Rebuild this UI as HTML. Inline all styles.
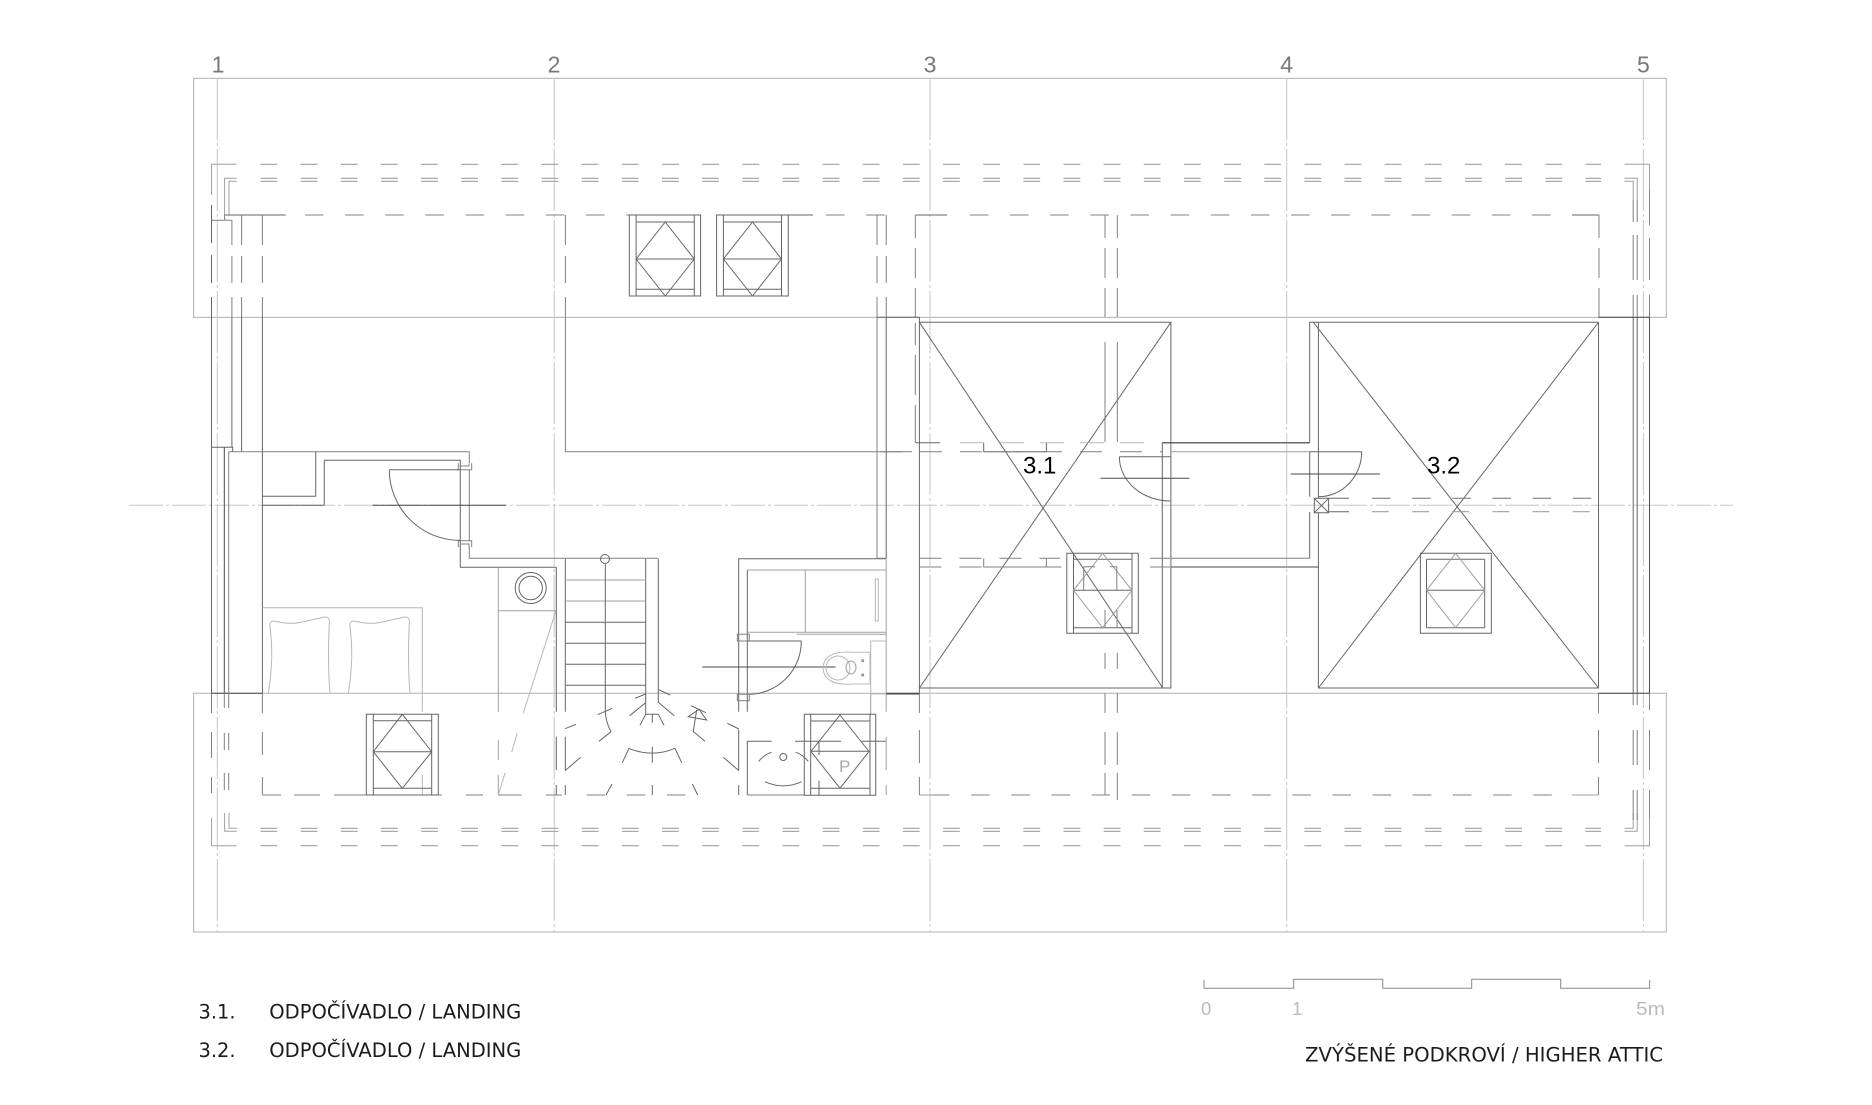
<!DOCTYPE html>
<html><head><meta charset="utf-8"><style>
html,body{margin:0;padding:0;background:#fff}
svg{display:block}
.a{stroke:#c8c8c8;stroke-dasharray:34 3 3 3}
.av{stroke:#c8c8c8;stroke-dasharray:62 3 3 3}
.r{stroke:#bdbdbd;stroke-width:1.2}
.k{stroke:#4a4a4a}.d{stroke:#666}.m{stroke:#808080}.l{stroke:#a0a0a0}.x{stroke:#b8b8b8}
path,line,rect,circle,ellipse,polyline{fill:none;stroke-width:1}
.hd{stroke:#a0a0a0;stroke-dasharray:16.8 23.35;stroke-width:1.2}
.hm{stroke:#808080;stroke-dasharray:18.5 21.65;stroke-width:1.1}
text{stroke:none}
.ax{font:23px "Liberation Sans",sans-serif;fill:#777;text-anchor:middle}
.rm{font:24px "Liberation Sans",sans-serif;fill:#000}
.sc{font:18.5px "Liberation Sans",sans-serif;fill:#bbb}
.lg{font:19.4px "DejaVu Sans",sans-serif;fill:#1c1c1c}
</style></head><body>
<svg width="1872" height="1105" viewBox="0 0 1872 1105" xmlns="http://www.w3.org/2000/svg">
<rect width="1872" height="1105" fill="#fff" style="fill:#fff;stroke:none"/>
<!-- roof outlines -->
<rect class="r" x="193.6" y="78.4" width="1472.7" height="239"/>
<rect class="r" x="193.6" y="693.3" width="1472.7" height="238.7"/>
<!-- axes -->
<g>
<line class="av" x1="217.3" y1="78" x2="217.3" y2="932"/>
<line class="av" x1="554.2" y1="78" x2="554.2" y2="932"/>
<line class="av" x1="930" y1="78" x2="930" y2="932"/>
<line class="av" x1="1286.7" y1="78" x2="1286.7" y2="932"/>
<line class="av" x1="1643.4" y1="78" x2="1643.4" y2="932"/>
<line class="a" x1="129" y1="505.3" x2="1733" y2="505.3"/>
</g>
<text class="ax" x="218" y="72.7">1</text><text class="ax" x="554" y="72.7">2</text><text class="ax" x="930" y="72.7">3</text><text class="ax" x="1286.7" y="72.7">4</text><text class="ax" x="1643.4" y="72.7">5</text>
<!-- top eaves -->
<line class="hd" x1="260.5" y1="164.3" x2="1601" y2="164.3"/>
<line class="hd" x1="260.5" y1="178.3" x2="1601" y2="178.3"/>
<line class="hd" x1="260.5" y1="181.3" x2="1601" y2="181.3"/>
<path class="l" d="M236.7 164.3H211.5V195M236.7 178.3H224.6V215M236.7 181.3H229V215"/>
<path class="l" d="M1624.5 164.3H1649.5V190M1624.5 178.3H1637.2V200M1624.5 181.3H1633.2V200"/>
<!-- bottom eaves -->
<line class="hd" x1="260.5" y1="845.7" x2="1601" y2="845.7"/>
<line class="hd" x1="260.5" y1="828.3" x2="1601" y2="828.3"/>
<line class="hd" x1="260.5" y1="831.3" x2="1601" y2="831.3"/>
<path class="l" d="M236.7 845.7H211.5V818M236.7 831.3H224.6V813M236.7 828.3H229V813"/>
<path class="l" d="M1624.5 845.7H1649.5V818M1624.5 831.3H1637.2V813M1624.5 828.3H1633.2V813"/>
<!-- top inner wall dashed -->
<path class="d" d="M224.6 215H285.7M629 215H700.6M716.6 215H813"/>
<line class="hm" x1="305" y1="215" x2="629" y2="215"/>
<line class="hm" x1="826" y1="215" x2="887" y2="215"/>
<path class="d" d="M915.3 215H947"/>
<line class="hm" x1="969.9" y1="215" x2="1571" y2="215"/>
<path class="d" d="M1571.9 215H1599"/>
<!-- top verticals -->
<path class="d" d="M211.5 205V243M211.5 255V283M211.5 297V317"/>
<path class="m" d="M231.9 220V245M231.9 256V283M231.9 297V317M241.6 215V245M241.6 256V283M241.6 297V317M262.4 215V245M262.4 256V283M262.4 297V317M565.4 215V245M565.4 256V283M565.4 297V317M877 215V245M877 256V283M877 297V317M886.2 215V245M886.2 256V283M886.2 297V317"/>
<path class="m" d="M915.3 215V238M915.3 248V278M915.3 288V317M915.3 323V345M915.3 355V395M915.3 405V442.7M1105 215V238M1105 248V278M1105 288V317M1105 342V442M1117.3 215V238M1117.3 248V278M1117.3 288V317M1117.3 342V442M1599 215V238M1599 248V278M1599 288V317"/>
<path class="m" d="M1633.2 200V222M1633.2 235V280M1633.2 295V317M1637.2 200V222M1637.2 235V280M1637.2 295V317M1649.5 190V225M1649.5 238V280M1649.5 295V317"/>
<path class="m" d="M224.6 215V220.3M211.5 220.3H231.9"/>
<!-- left wall -->
<path class="d" d="M211.5 317V693.3M231.9 317V447.3M241.6 317V451.7M262.4 317V693.3M211.5 447.3H232.7V451.7"/>
<path class="k" d="M224.3 447.3V693.3M211.5 693.3H262.4"/>
<path class="m" d="M228.7 451.7V693.3"/>
<!-- room wall pieces -->
<path class="m" d="M228.7 451.7H469.3V463M469.3 469.7V540.7M469.3 546.7V558.3H658.4"/>
<path class="d" d="M315.7 451.7V496.3H262.3M324.3 505.3V460.3H460.3V567.3H556.3M262.3 505.3H324.3"/>
<path class="m" d="M458.3 463.3V469.7H471.7V463.3M460.5 463.3V466H469V463.3M458.3 547.3V540.7H471.7V547.3M460.5 547.3V544H469V547.3"/>
<path class="d" d="M389.3 469.7H460M389.3 469.7A70.7 70.7 0 0 0 460 540.4"/>
<line class="k" x1="372.7" y1="505.3" x2="506" y2="505.3"/>
<!-- bed -->
<path class="x" d="M262.3 607.7H422.3V711.7M422.3 775V795"/>
<path class="x" d="M268.3 693.3C272 670 273 650 270 627Q269 621 274 621C295 626 300 622 325 617Q330 617 329.3 623C328 650 328 670 330 693.3"/>
<path class="x" d="M348.3 693.3C352 670 353 650 350 627Q349 621 354 621C375 626 380 622 405 617Q410 617 409.3 623C408 650 408 670 410 693.3"/>
<!-- left lower verticals -->
<path class="m" d="M211.5 693.3V713M211.5 732V758M211.5 777V793M224.3 693.3V708M224.3 733V750M224.3 773V790M228.7 693.3V708M228.7 733V750M228.7 773V790M262.4 693.3V713M262.4 732V755M262.4 777V795"/>
<path class="m" d="M262.4 795H281M294 795H320M334 795H366M366 795H442M466 795H483M498.3 795H521.7M546 795H562"/>
<line class="hm" x1="586.7" y1="795" x2="700" y2="795"/>
<!-- washer area -->
<path class="l" d="M498.3 567.3V712M498.3 740V760M498.3 775V795M498.3 610.7H556.3"/>
<circle class="d" cx="530.7" cy="588" r="15.5"/><circle class="d" cx="530.7" cy="588" r="11.7"/>
<path class="x" d="M556 610.7L523.3 713M517.3 733L511.7 752M505 773L498.3 795"/>
<path class="d" d="M556.3 567.3V711.7M556.3 736.7V770M556.3 785V795"/>
<!-- stairs -->
<path class="d" d="M565.3 558.7V711.7M565.3 736.7V770M565.3 785V795M645.7 558.7V714.3M658.3 558.7V702.7"/>
<path class="l" d="M565.3 580H645.7M565.3 601H645.7"/>
<path class="d" d="M565.3 622.3H645.7M565.3 643.3H645.7M565.3 664.3H645.7M565.3 685.3H645.7"/>
<path class="d" d="M605.3 562.7V710Q605.5 722 611 731.7"/>
<circle class="d" cx="605" cy="559" r="4.5"/>
<path class="d" d="M597.7 714.7L612.3 708.3M565 728.7L576 724.3M599 741.3L611 731.7M565 770.7L580.7 757.3M606 795L612 784M622.3 762.7L629 748.3M628.7 748.3Q652 758 675 748.3M652.3 746.7V762.7M652.3 785V795M681.7 762.7L675 748.3M697.7 795L692.3 784M739 770.7L723.3 757.3M692.7 731L705 741.3M727.3 723.3L739 729M691 705.7L706 712.7M696.7 710L693.3 731M635 698.3L645.7 694M629.7 715.7L645.7 702.7M658.7 689.7L670 695M658.3 702.3L674.3 715.7M640 725.3L645.7 714.3M652.3 714.3V722.7M664 725.3L658.3 714.3M645.7 714.3H658.3M688.3 716.7L699 709.3L706.7 720Z"/>
<!-- bathroom -->
<path class="d" d="M738.7 711.7V558.7H886M738.7 730V770M738.7 785V795"/>
<path class="d" d="M747.3 711.7V570M747.3 741V795"/>
<path class="l" d="M747.3 570H886M805.3 570V632.3M747.3 632.3H886M796.7 634.3H886"/>
<rect class="x" x="875.3" y="579" width="3" height="42"/>
<path class="m" d="M737.3 634.3H749.3V641H737.3ZM737.3 694.3H749.3V700.7H737.3Z"/>
<path class="d" d="M747.3 641H801.3M801.3 641A53 53 0 0 1 749.3 694.3"/>
<line class="k" x1="702.3" y1="667" x2="835.7" y2="667"/>
<path class="x" d="M870 652.3H853Q824 650 823 668Q824 686 853 684H870ZM870.7 641V694H886M870.7 641H886"/>
<ellipse class="x" cx="838" cy="668" rx="12" ry="12"/>
<ellipse class="l" cx="851" cy="667.5" rx="5" ry="6.5"/>
<circle class="m" cx="862.7" cy="660.7" r="1"/><circle class="m" cx="862.7" cy="675" r="1"/>
<path class="k" d="M886 694H919.4"/>
<path class="l" d="M870.7 694V714"/>
<path class="d" d="M747.7 741.3H771.7M795 741.3H841M861.7 741.3H886"/>
<circle class="d" cx="783.3" cy="757" r="3.5"/>
<path class="d" d="M758.7 761.3Q765 754 771.7 752.3M808.3 761.3Q802 754 795.7 752.3M765 781.7Q783 790 801.7 781.7M819 741.7V755M819 780.7V795"/>
<path class="m" d="M747.3 795H804"/>
<!-- walls 3 -->
<path class="m" d="M877 317V558.3H886.2"/>
<path class="d" d="M886.2 317V558.3M877 317.3H919.4"/>
<path class="l" d="M886.2 558.3V711.7M886.2 737V770M886.2 785V795"/>
<path class="d" d="M919.4 317V693.3"/>
<path class="m" d="M565.4 317V451.7H912"/>
<line class="k" x1="886" y1="693.3" x2="919.4" y2="693.3"/>
<!-- room 3.1 -->
<path class="d" d="M919.4 322.3H1170.9V688H919.4"/>
<path class="d" d="M1162.3 442.7V688"/>
<path class="d" d="M919.4 322.3L1162.8 688M1170.9 322.3L919.4 688"/>
<!-- room 3.2 -->
<path class="d" d="M1598.5 322.3H1309.7V442.7M1318.4 322.3V498.3M1318.4 512.7V688H1598.5V322.3M1309.7 451.7V496.7M1309.7 512V558.3"/>
<path class="d" d="M1313.3 322.3L1598.5 688M1598.5 322.3L1318.4 688"/>
<!-- connector -->
<path class="d" stroke-width="1.5" style="stroke-width:1.5" d="M1162.3 442.7H1309.7"/>
<path class="l" d="M1170.9 451.7H1309.7"/>
<path class="m" d="M1170.9 558.3H1309.7"/>
<path class="k" d="M1170.9 567H1318.4"/>
<!-- dashed in 3.1 -->
<path class="d" d="M915.3 442.7H940M983.7 442.7V451.7H1046.4V442.7"/>
<path stroke-dasharray="24 16" class="x" d="M960 442.7H1145"/>
<path stroke-dasharray="22 18" class="m" d="M880 451.7H1162"/>
<path class="m" d="M983.7 558.3V567H1046.4V558.3"/>
<path stroke-dasharray="22 18" class="m" d="M919.4 558.3H1060M919.4 567H1066M1150 558.3H1170M1150 567H1170"/>
<!-- doors -->
<path class="d" d="M1119.4 456.7H1170.9M1119.4 456.7A51 44 0 0 0 1170.4 501M1361.7 451.7H1309.7M1361.7 451.7A43 45 0 0 1 1318.4 496.7"/>
<line class="k" x1="1100.5" y1="478.3" x2="1189.3" y2="478.3"/>
<line class="k" x1="1290.8" y1="474" x2="1380" y2="474"/>
<!-- flue -->
<path class="d" d="M1314.3 498.3H1328.6V512.7H1314.3ZM1314.3 498.3L1328.6 512.7M1328.6 498.3L1314.3 512.7"/>
<path class="d" d="M1328.6 498.3H1349M1328.6 511.7H1349"/>
<line class="hm" x1="1372" y1="498.3" x2="1598.5" y2="498.3"/>
<line class="hd" x1="1372" y1="511.7" x2="1598.5" y2="511.7"/>
<!-- lower right verticals -->
<path class="m" d="M919.4 693.3V713M919.4 730V763M919.4 777V795M1105 653V669M1105 693.3V713M1105 732V765M1105 773V795M1117.3 653V669M1117.3 693.3V713M1117.3 732V765M1117.3 773V800M1598.5 693.3V713M1598.5 730V763M1598.5 777V795"/>
<path class="m" d="M1633.2 693.3V705M1633.2 730V765M1633.2 790V820M1637.2 693.3V705M1637.2 730V765M1637.2 790V820M1649.5 693.3V710M1649.5 730V770M1649.5 790V818"/>
<line class="hm" x1="931" y1="795" x2="1572" y2="795"/>
<path class="l" d="M919.4 795H931M1572 795H1598.5"/>
<!-- right wall -->
<path class="d" d="M1633.2 317V693.3M1637.2 317V693.3"/>
<path class="k" d="M1649.5 317V693.3M1598.5 317.3H1649.5M1598.5 693.3H1649.5"/>
<!-- windows -->
<g>
<path class="d" d="M629.3 215H700.6V296H629.3ZM636.1 215V296M694.3 215V296M636.1 222H694.3M636.1 289.3H694.3M636.1 259H694.3M665.2 222L694.3 259L665.2 296L636.1 259Z"/>
<path class="d" d="M716.6 215H788.3V296H716.6ZM723.4 215V296M781.5 215V296M723.4 222H781.5M723.4 289.3H781.5M723.4 259H781.5M752.5 222L781.5 259L752.5 296L723.4 259Z"/>
<path class="d" d="M366.3 714.3H438.3V795H366.3ZM373.3 714.3V795M431.7 714.3V795M373.3 720.7H431.7M373.3 788.3H431.7M373.3 751.7H431.7M402.3 714.3L431.7 751.7L402.3 788.3L373.3 751.7Z"/>
<path class="d" d="M804.3 714.3H875.7V795.3H804.3ZM810.7 714.3V795M870 714.3V795M810.7 721H870M810.7 788.3H870M810.7 751.3H870M840 715L869 751.5L840 788.3L811 751.5Z"/>
</g>
<text x="839" y="772" style="font:17px 'Liberation Sans',sans-serif;fill:#aaa">P</text>
<!-- window 3.1 -->
<path class="d" d="M1066.8 553.3H1138.3V633.3H1066.8ZM1073.5 553.3V633.3M1132 553.3V633.3M1073.5 559.3H1132M1073.5 627.7H1132M1073.5 590.3H1132"/>
<path class="l" d="M1102.6 553.3L1132 590.3L1102.6 627.7L1073.5 590.3Z"/>
<path class="m" d="M1083.7 566.7V590M1116.8 566.7V590M1083.7 566.7H1095M1110 566.7H1116.8M1105 610V627M1117 610V627"/>
<!-- window 3.2 -->
<path class="d" d="M1420.4 553.3H1491.3V633.3H1420.4ZM1426.5 559.3V627.7M1484.7 559.3V627.7M1426.5 559.3H1484.7M1426.5 627.7H1484.7M1426.5 590.3H1484.7"/>
<path class="l" d="M1455.6 553.3L1484.7 590.3L1455.6 627.7L1426.5 590.3Z"/>
<!-- room labels -->
<text class="rm" x="1023" y="473.3">3.1</text>
<text class="rm" x="1427" y="473.3">3.2</text>
<!-- scale -->
<path style="stroke:#888" d="M1204 980V988.3H1293.7V979.3H1382.7V988.3H1471.7V979.3H1560.7V988.3H1649.7V980"/>
<text class="sc" x="1201" y="1015">0</text><text class="sc" x="1292" y="1015">1</text><text class="sc" x="1636" y="1015" textLength="29" lengthAdjust="spacingAndGlyphs">5m</text>
<!-- legend -->
<text class="lg" x="198.5" y="1018.5">3.1.</text>
<text class="lg" x="269.3" y="1018.5" textLength="252" lengthAdjust="spacingAndGlyphs">ODPOČÍVADLO / LANDING</text>
<text class="lg" x="198.5" y="1057">3.2.</text>
<text class="lg" x="269.3" y="1057" textLength="252" lengthAdjust="spacingAndGlyphs">ODPOČÍVADLO / LANDING</text>
<text class="lg" x="1305" y="1061.7" textLength="358" lengthAdjust="spacingAndGlyphs">ZVÝŠENÉ PODKROVÍ / HIGHER ATTIC</text>
</svg>
</body></html>
